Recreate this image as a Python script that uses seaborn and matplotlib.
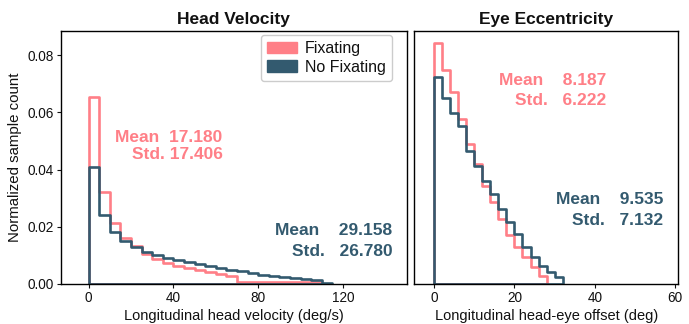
import numpy as np
import pandas as pd
import matplotlib
matplotlib.use("Agg")
import matplotlib.pyplot as plt
from matplotlib.patches import Patch
import seaborn as sns

# ---------------- data ----------------
groups = ["Fixating", "No Fixating"]

hv_bin_width = 5
hv_fixating = [0.0654, 0.0321, 0.0214, 0.0162, 0.0131, 0.0104, 0.0087, 0.0073,
               0.0064, 0.0056, 0.0050, 0.0042, 0.0035, 0.0027, 0.0006, 0.0006,
               0.0006, 0.0006, 0.0006, 0.0006, 0.0006, 0.0006]
hv_no_fixating = [0.0410, 0.0241, 0.0180, 0.0151, 0.0130, 0.0111, 0.0100, 0.0091,
                  0.0085, 0.0077, 0.0070, 0.0062, 0.0056, 0.0050, 0.0044, 0.0037,
                  0.0033, 0.0029, 0.0025, 0.0021, 0.0017, 0.0013, 0.0005]
hv_stats = {"Fixating": (17.180, 17.406), "No Fixating": (29.158, 26.780)}

ee_bin_width = 2
ee_fixating = [0.0841, 0.0748, 0.0671, 0.0578, 0.0488, 0.0418, 0.0344, 0.0286,
               0.0227, 0.0170, 0.0129, 0.0094, 0.0059, 0.0029]
ee_no_fixating = [0.0725, 0.0649, 0.0599, 0.0553, 0.0464, 0.0414, 0.0361, 0.0315,
                  0.0262, 0.0218, 0.0174, 0.0129, 0.0094, 0.0062, 0.0043, 0.0023]
ee_stats = {"Fixating": (8.187, 6.222), "No Fixating": (9.535, 7.132)}

hv_xticks = [0, 40, 80, 120]
ee_xticks = [0, 20, 40, 60]
y_ticks = [0.00, 0.02, 0.04, 0.06, 0.08]

# ---------------- style ----------------
sns.set_style("ticks")
plt.rcParams["font.family"] = ["Liberation Sans", "DejaVu Sans"]
plt.rcParams["xtick.major.size"] = 3
plt.rcParams["ytick.major.size"] = 3
plt.rcParams["axes.linewidth"] = 1.0
plt.rcParams["text.color"] = "#111111"
plt.rcParams["axes.labelcolor"] = "#111111"
plt.rcParams["xtick.color"] = "#111111"
plt.rcParams["ytick.color"] = "#111111"

colors = {"Fixating": "#FF7F87", "No Fixating": "#335A6F"}
LW = 1.9

fig = plt.figure(figsize=(6.89, 3.24), dpi=100)
ax1 = fig.add_axes([0.0885, 0.1235, 0.5018, 0.7808])
ax2 = fig.add_axes([0.6009, 0.1235, 0.3836, 0.7808])


def draw(ax, width, series):
    for name, vals in series:
        vals = list(vals)
        edges = [i * width for i in range(len(vals) + 1)]
        centers = [e + width / 2 for e in edges[:-1]]
        df = pd.DataFrame({"value": centers, "weight": vals})
        sns.histplot(data=df, x="value", weights="weight", bins=edges,
                     element="step", fill=True, alpha=1, color=colors[name],
                     facecolor="none", edgecolor=colors[name],
                     linewidth=LW, ax=ax)


draw(ax1, hv_bin_width, [("Fixating", hv_fixating), ("No Fixating", hv_no_fixating)])
draw(ax2, ee_bin_width, [("Fixating", ee_fixating), ("No Fixating", ee_no_fixating)])

ymax = 0.0884
for ax in (ax1, ax2):
    ax.set_ylim(0, ymax)
    for s in ax.spines.values():
        s.set_visible(True)
        s.set_color("black")

ax1.set_xlim(-13, 150)
ax2.set_xlim(-5, 60.8)
ax1.set_xticks(hv_xticks)
ax2.set_xticks(ee_xticks)
ax1.set_yticks(y_ticks)
ax1.set_yticklabels([f"{v:.2f}" for v in y_ticks])
ax2.set_yticks(y_ticks)
ax2.tick_params(left=False, labelleft=False)
for ax in (ax1, ax2):
    ax.tick_params(labelsize=9.8, pad=2)

ax1.set_xlabel("Longitudinal head velocity (deg/s)", fontsize=10.5, labelpad=3)
ax2.set_xlabel("Longitudinal head-eye offset (deg)", fontsize=10.5, labelpad=3)
ax1.set_ylabel("Normalized sample count", fontsize=10.8, labelpad=4)
ax2.set_ylabel("")
ax1.set_title("Head Velocity", fontsize=12.5, fontweight="bold", pad=5)
ax2.set_title("Eye Eccentricity", fontsize=12.5, fontweight="bold", pad=5)


def stat_text(ax, name, stats, x, y, ls, gaps):
    m, s = stats[name]
    g1, g2 = gaps
    ax.text(x, y, "Mean" + " " * g1 + f"{m:.3f}\n" + "Std." + " " * g2 + f"{s:.3f}",
            transform=ax.transAxes,
            ha="right", va="center", multialignment="right",
            fontsize=12.5, fontweight="bold", color=colors[name],
            linespacing=ls)


stat_text(ax1, "Fixating", hv_stats, 0.467, 0.545, 1.17, (2, 1))
stat_text(ax1, "No Fixating", hv_stats, 0.959, 0.170, 1.45, (4, 3))
stat_text(ax2, "Fixating", ee_stats, 0.728, 0.766, 1.45, (4, 3))
stat_text(ax2, "No Fixating", ee_stats, 0.943, 0.292, 1.45, (4, 3))

handles = [Patch(facecolor=colors[g], edgecolor=colors[g]) for g in groups]
ax1.legend(handles, groups, loc="upper left", bbox_to_anchor=(0.578, 0.984),
           fontsize=11.5, handlelength=1.85, handleheight=0.7,
           handletextpad=0.5, borderaxespad=0.0, borderpad=0.4,
           labelspacing=0.2, frameon=True, fancybox=True, framealpha=1,
           edgecolor="#cccccc")

fig.savefig("out.png", dpi=100)
